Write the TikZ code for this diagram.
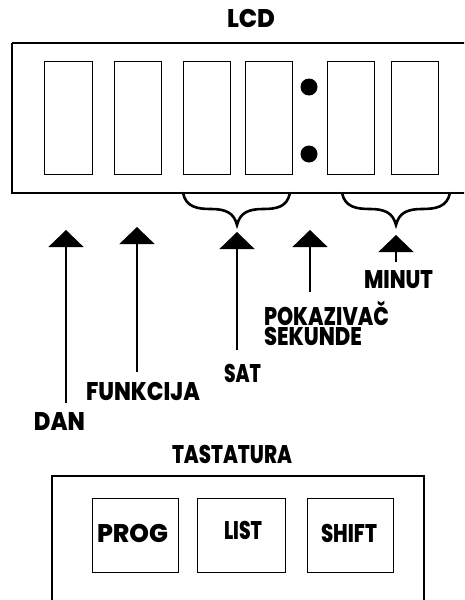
\documentclass[tikz,border=0pt]{standalone}
\usepackage{fontspec}
\setmainfont{Poppins}[BoldFont={Poppins ExtraBold}]
\usepackage{graphicx}
\usetikzlibrary{arrows.meta}
\newcommand\fw[2]{\setbox0=\hbox{#2}\pgfmathsetmacro\myfx{(#1)/(\the\wd0)}\scalebox{\myfx}[1]{\box0}}
\tikzset{
  lbl/.style={anchor=base west, inner sep=0pt, outer sep=0pt, font=\fontsize{25.5}{28}\selectfont\bfseries},
  digit/.style={draw, line width=1.3pt, minimum width=47pt, minimum height=113pt, inner sep=0pt, anchor=north west},
  keybox/.style={draw, line width=1.3pt, minimum width=86pt, minimum height=74pt, inner sep=0pt, anchor=north west},
  frame/.style={line width=2pt},
  brace/.style={line width=2.6pt, line cap=round},
  upar/.style={line width=1.2pt, -{Triangle[width=35pt,length=17pt]}},
}
\begin{document}
\begin{tikzpicture}[x=1pt,y=-1pt]
\clip (0,0) rectangle (464,600);
\fill[white] (0,0) rectangle (464,600);
% LCD
\node[lbl] (lcdlbl) at (227,27) {\fw{48pt}{LCD}};
\draw[frame] (12,43) -- (480,43) (12,43) -- (12,193) -- (480,193);
\node[digit, minimum width=48pt] (d1) at (44,61) {};
\node[digit] (d2) at (114,61) {};
\node[digit] (d3) at (183,61) {};
\node[digit] (d4) at (245,61) {};
\node[digit] (d5) at (327,61) {};
\node[digit] (d6) at (391,61) {};
\fill (309,87) circle (8.5);
\fill (309,154) circle (8.5);
% braces
\draw[brace] (183,193) .. controls (186,207) and (197,209) .. (211,209)
  .. controls (226,209) and (234,213) .. (237,225)
  .. controls (240,213) and (248,209) .. (263,209)
  .. controls (277,209) and (287,207) .. (290,193);
\draw[brace] (342,193) .. controls (345,207) and (356,209) .. (370,209)
  .. controls (385,209) and (393,213) .. (396,225)
  .. controls (399,213) and (407,209) .. (422,209)
  .. controls (436,209) and (447,207) .. (450,193);
% arrows
\coordinate (danS) at (66,403);   \coordinate (danT) at (66,230);
\coordinate (funS) at (137,372);  \coordinate (funT) at (137,227);
\coordinate (satS) at (237,350);  \coordinate (satT) at (237,232);
\coordinate (pokS) at (310,292);  \coordinate (pokT) at (310,230);
\coordinate (minS) at (396,262);  \coordinate (minT) at (396,235);
\draw[upar] (danS) -- (danT);
\draw[upar, line width=1.6pt] (funS) -- (funT);
\draw[upar] (satS) -- (satT);
\draw[upar] (pokS) -- (pokT);
\draw[upar] (minS) -- (minT);
% labels
\node[lbl] (minut) at (364,288) {\fw{69pt}{MINUT}};
\node[lbl] (pok) at (264,325) {\rlap{\raisebox{-20pt}{\fw{98pt}{SEKUNDE}}}\fw{125pt}{POKAZIVAČ}};
\node[lbl] (sat) at (224,382) {\fw{37pt}{SAT}};
\node[lbl] (fun) at (86,400) {\fw{114pt}{FUNKCIJA}};
\node[lbl] (dan) at (34,430) {\fw{51pt}{DAN}};
% keyboard
\node[lbl] (tast) at (172,463) {\fw{120pt}{TASTATURA}};
\draw[frame, line width=1.8pt] (52,610) -- (52,476) -- (424,476) -- (424,610);
\node[keybox] (kprog) at (92,498) {};
\node[keybox, minimum width=88pt] (klist) at (197,498) {};
\node[keybox] (kshift) at (307,498) {};
\node[lbl] (prog) at (97,542) {\fw{71pt}{PROG}};
\node[lbl] (list) at (224,539) {\fw{38pt}{LIST}};
\node[lbl] (shift) at (321,542) {\fw{56pt}{SHIFT}};
\end{tikzpicture}
\end{document}
